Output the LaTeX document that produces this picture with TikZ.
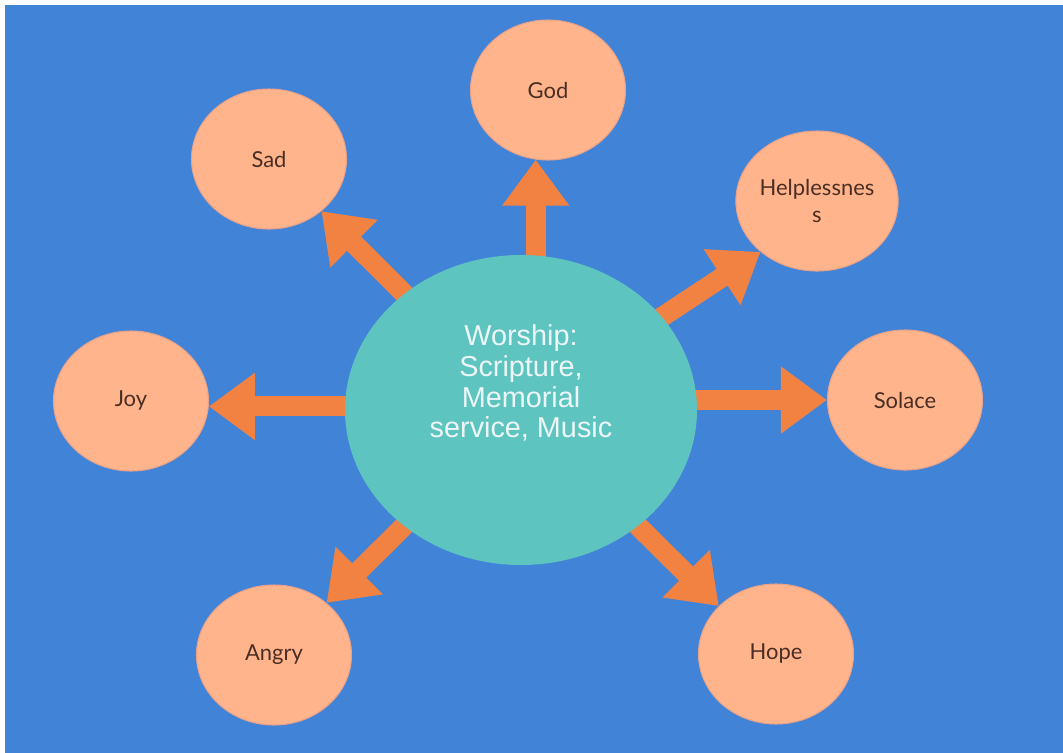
\documentclass[tikz,border=0pt]{standalone}
\usepackage{fontspec}
\setmainfont{Lato}
\newfontfamily\hubfont{Liberation Sans}
\usetikzlibrary{shapes.geometric,arrows.meta}
\definecolor{skyblue}{RGB}{65,131,215}
\definecolor{peach}{RGB}{255,180,140}
\definecolor{peachedge}{RGB}{232,162,138}
\definecolor{hubteal}{RGB}{94,196,192}
\definecolor{hubwhite}{RGB}{236,246,246}
\definecolor{spokeorange}{RGB}{242,130,66}
\definecolor{labelbrown}{RGB}{74,46,36}
\pgfdeclarelayer{back}
\pgfdeclarelayer{spokes}
\pgfsetlayers{back,spokes,main}

\begin{document}
\begin{tikzpicture}[
  feeling/.style={ellipse,fill=peach,draw=peachedge,line width=0.6pt,
    minimum width=3.1cm,minimum height=2.8cm,inner sep=0pt,align=center,
    text=labelbrown,font=\fontsize{12.5}{15}\selectfont},
  hub/.style={ellipse,fill=hubteal,minimum width=7.04cm,minimum height=6.2cm,inner sep=0pt},
  hubtext/.style={align=center,text=hubwhite,font=\hubfont\fontsize{16.4}{17.6}\selectfont},
  arrowline/.style={draw=spokeorange,line width=0.4cm,
    -{Triangle[length=0.92cm,width=1.28cm]}}]
  \useasboundingbox (0,0) rectangle (21.26,-15.06);
  \begin{pgfonlayer}{back}
    \fill[skyblue] (0.1,-0.1) rectangle (21.26,-15.06);
  \end{pgfonlayer}
  \node[hub] (c) at (10.42,-8.2) {};
  \node[hubtext] (hubnote) at ([yshift=0.54cm]c.center) {Worship:\\Scripture,\\Memorial\\service, Music};
  \node[feeling] (god) at (10.96,-1.8) {God};
  \node[feeling] (sad) at (5.38,-3.18) {Sad};
  \node[feeling] (help) at (16.34,-4.02) {Helplessnes\\s};
  \node[feeling] (joy) at (2.62,-8.02) {Joy};
  \node[feeling] (solace) at (18.1,-8.0) {Solace};
  \node[feeling] (angry) at (5.48,-13.1) {Angry};
  \node[feeling] (hope) at (15.52,-13.08) {Hope};
  \begin{pgfonlayer}{spokes}
    \draw[arrowline] (c.center -| god.260) -- (god.260);
    \draw[arrowline] (c.center |- joy.-4) -- (joy.-4);
    \draw[arrowline] (c.center |- solace) -- (solace);
    \draw[arrowline] (c.center) -- (help.222);
    \draw[arrowline] (c.center) -- (hope.140);
    \foreach \s in {sad,angry}
      \draw[arrowline] (c.center) -- (\s);
  \end{pgfonlayer}
\end{tikzpicture}
\end{document}
